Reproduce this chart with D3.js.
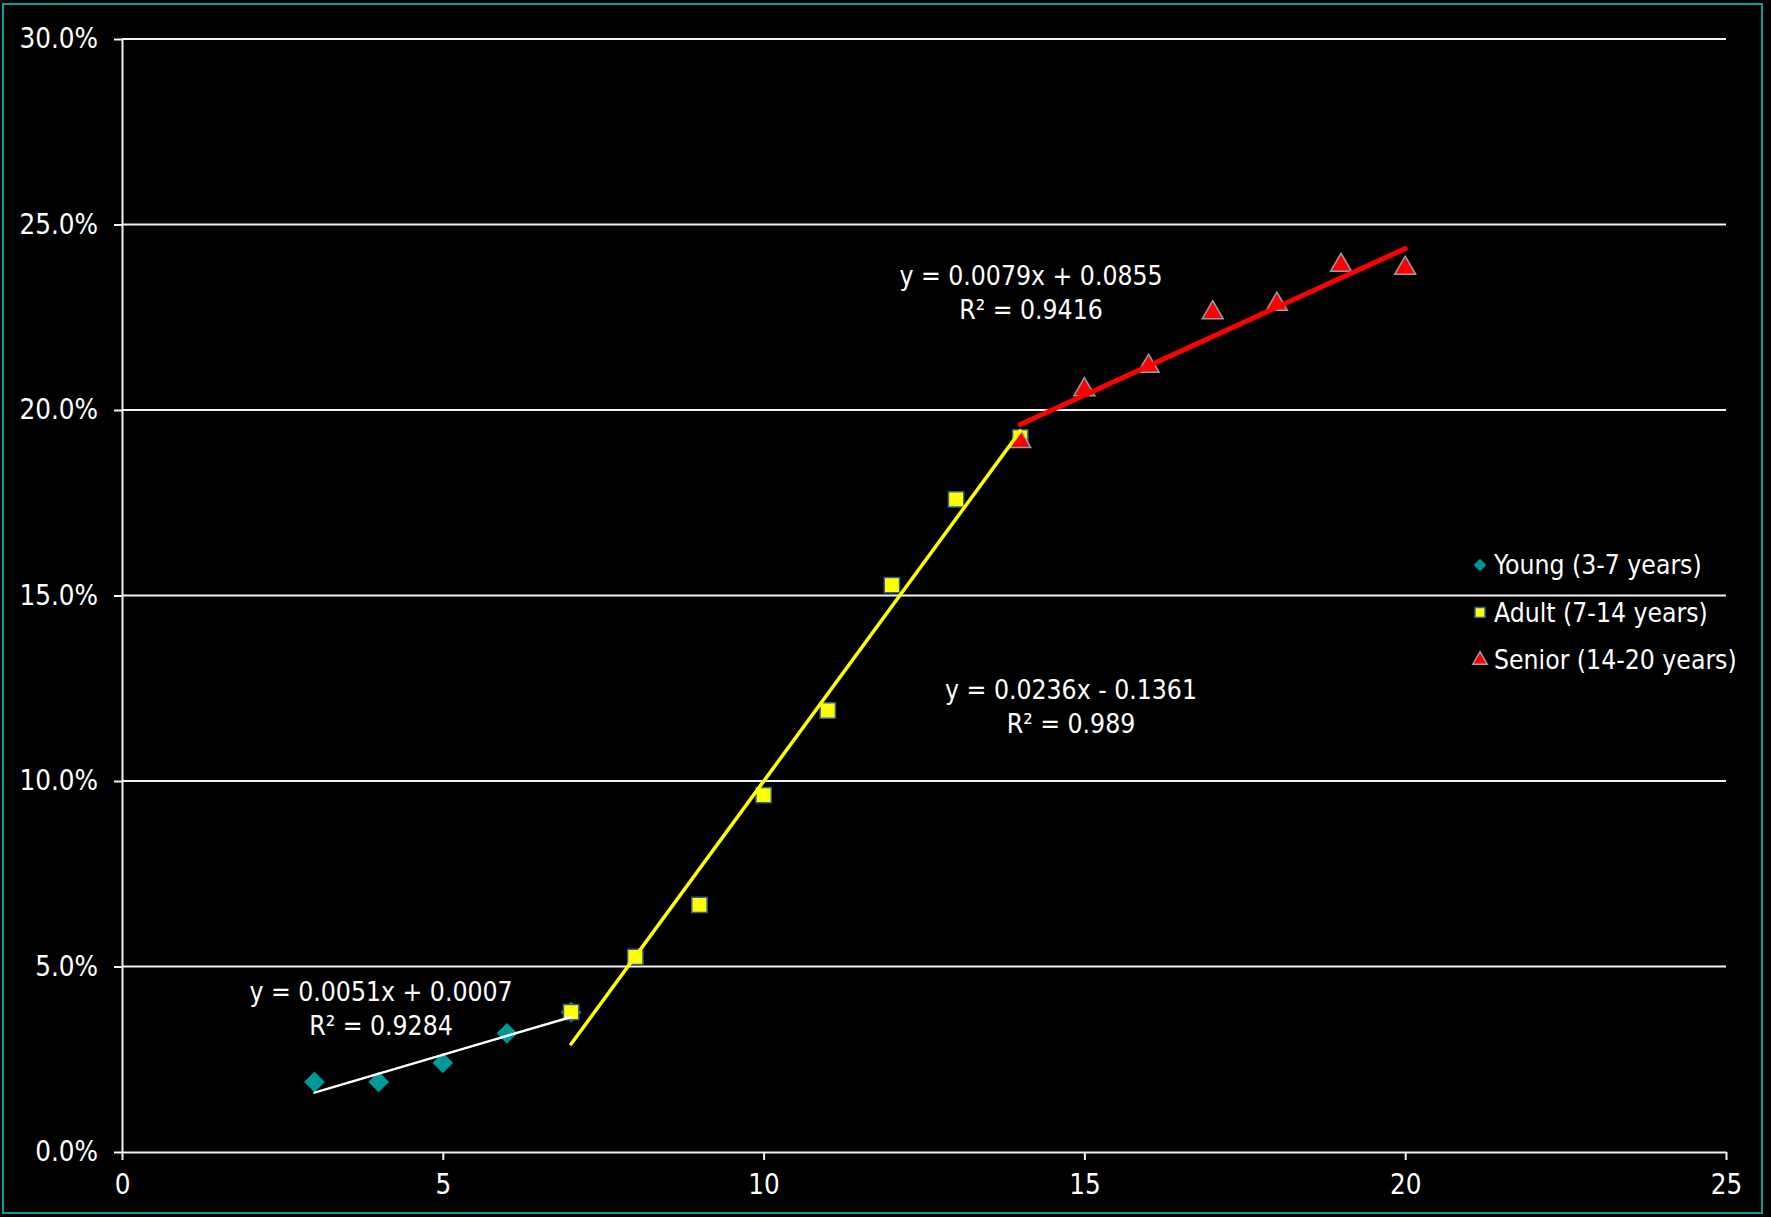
<!DOCTYPE html>
<html>
<head>
<meta charset="utf-8">
<script src="https://cdn.jsdelivr.net/npm/d3@7"></script>
<style>
  html, body { margin: 0; padding: 0; background: #000; }
  svg { display: block; }
  text { font-family: "DejaVu Sans Condensed", "DejaVu Sans", sans-serif; fill: #fff; }
</style>
</head>
<body>
<svg width="1771" height="1217"></svg>
<script>
// data
const youngX = [3, 4, 5, 6, 7];
const youngY = [0.0189, 0.0189, 0.0240, 0.0320, 0.0377];
const adultX = [7, 8, 9, 10, 11, 12, 13, 14];
const adultY = [0.0377, 0.0526, 0.0666, 0.0962, 0.1190, 0.1528, 0.1759, 0.1926];
const seniorX = [14, 15, 16, 17, 18, 19, 20];
const seniorY = [0.1915, 0.2055, 0.2118, 0.2262, 0.2285, 0.2390, 0.2382];

const seriesNames = ["Young (3-7 years)", "Adult (7-14 years)", "Senior (14-20 years)"];
const trendSlopes = [0.0051, 0.0236, 0.0079];
const trendIntercepts = [0.0007, -0.1361, 0.0855];
const trendLabels = ["y = 0.0051x + 0.0007", "y = 0.0236x - 0.1361", "y = 0.0079x + 0.0855"];
const r2Labels = ["R² = 0.9284", "R² = 0.989", "R² = 0.9416"];

const xTicks = [0, 5, 10, 15, 20, 25];
const yTicks = [0, 0.05, 0.10, 0.15, 0.20, 0.25, 0.30];

var svg = d3.select("svg");

// outer teal frame
svg.append("rect")
    .attr("x", 3).attr("y", 4)
    .attr("width", 1759).attr("height", 1209)
    .attr("fill", "none")
    .attr("stroke", "#0f9a9a")
    .attr("stroke-width", 2);

var x = d3.scaleLinear().domain([0, 25]).range([122, 1726]);
var y = d3.scaleLinear().domain([0, 0.30]).range([1152, 39]);

// gridlines
svg.append("g")
    .selectAll("line")
    .data(yTicks.filter(d => d > 0))
    .enter().append("line")
    .attr("x1", x(0)).attr("x2", x(25))
    .attr("y1", d => y(d)).attr("y2", d => y(d))
    .attr("stroke", "#f2f2f2")
    .attr("stroke-width", 2);

// axes
var xAxis = svg.append("g")
    .attr("transform", "translate(0," + y(0) + ")")
    .call(d3.axisBottom(x).tickValues(xTicks).tickSize(8).tickPadding(14).tickSizeOuter(0));
var yAxis = svg.append("g")
    .attr("transform", "translate(" + x(0) + ",0)")
    .call(d3.axisLeft(y).tickValues(yTicks).tickSize(8).tickPadding(16).tickFormat(d3.format(".1%")).tickSizeOuter(0));

[xAxis, yAxis].forEach(function (g) {
    g.select(".domain").attr("stroke", "#f2f2f2").attr("stroke-width", 2);
    g.selectAll(".tick line").attr("stroke", "#f2f2f2").attr("stroke-width", 2);
    g.selectAll(".tick text")
        .attr("fill", "#fff")
        .style("font-family", '"DejaVu Sans Condensed", "DejaVu Sans", sans-serif')
        .style("font-size", "27.5px");
});

// markers
var diamond = d3.symbol().type(d3.symbolSquare).size(215);
var square = d3.symbol().type(d3.symbolSquare).size(235);
var triangle = d3.symbol().type(d3.symbolTriangle).size(190);

svg.append("g").selectAll("path")
    .data(youngX.map((d, i) => [d, youngY[i]]))
    .enter().append("path")
    .attr("d", diamond)
    .attr("transform", d => "translate(" + x(d[0]) + "," + y(d[1]) + ") rotate(45)")
    .attr("fill", "#009999");

svg.append("g").selectAll("path")
    .data(adultX.map((d, i) => [d, adultY[i]]))
    .enter().append("path")
    .attr("d", square)
    .attr("transform", d => "translate(" + x(d[0]) + "," + y(d[1]) + ")")
    .attr("fill", "#ffff00")
    .attr("stroke", "#2f5f8f")
    .attr("stroke-width", 1.5);

svg.append("g").selectAll("path")
    .data(seniorX.map((d, i) => [d, seniorY[i]]))
    .enter().append("path")
    .attr("d", triangle)
    .attr("transform", d => "translate(" + x(d[0]) + "," + y(d[1]) + ")")
    .attr("fill", "#ff0000")
    .attr("stroke", "#9a9aaa")
    .attr("stroke-width", 1.5);

// linear trendlines
var ranges = [d3.extent(youngX), d3.extent(adultX), d3.extent(seniorX)];
var trendColors = ["#ffffff", "#ffff00", "#ff0000"];
var trendWidths = [2.5, 3.5, 5];
var line = d3.line().x(d => x(d[0])).y(d => y(d[1]));

ranges.forEach(function (r, i) {
    var pts = r.map(v => [v, trendSlopes[i] * v + trendIntercepts[i]]);
    svg.append("path")
        .attr("d", line(pts))
        .attr("fill", "none")
        .attr("stroke", trendColors[i])
        .attr("stroke-width", trendWidths[i])
        .attr("stroke-linecap", "round");
});

// trendline labels
var labelPos = [[381, 992], [1071, 690], [1031, 276]];
labelPos.forEach(function (p, i) {
    var t = svg.append("text")
        .attr("x", p[0]).attr("y", p[1])
        .attr("text-anchor", "middle")
        .style("font-size", "26.3px");
    t.append("tspan").attr("x", p[0]).attr("dy", "0.35em").text(trendLabels[i]);
    t.append("tspan").attr("x", p[0]).attr("dy", "1.27em").text(r2Labels[i]);
});

// legend
var legend = svg.append("g").attr("transform", "translate(1480,565)");
var legendSymbols = [
    { sym: d3.symbol().type(d3.symbolSquare).size(80), rot: 45, fill: "#009999", stroke: "none" },
    { sym: d3.symbol().type(d3.symbolSquare).size(100), rot: 0, fill: "#ffff00", stroke: "#2f5f8f" },
    { sym: d3.symbol().type(d3.symbolTriangle).size(90), rot: 0, fill: "#ff0000", stroke: "#9a9aaa" }
];
seriesNames.forEach(function (name, i) {
    var row = legend.append("g").attr("transform", "translate(0," + i * 47.5 + ")");
    row.append("path")
        .attr("d", legendSymbols[i].sym)
        .attr("transform", "rotate(" + legendSymbols[i].rot + ")")
        .attr("fill", legendSymbols[i].fill)
        .attr("stroke", legendSymbols[i].stroke)
        .attr("stroke-width", 1.5);
    row.append("text")
        .attr("x", 14)
        .attr("dy", "0.35em")
        .style("font-size", "26.3px")
        .text(name);
});
</script>
</body>
</html>
